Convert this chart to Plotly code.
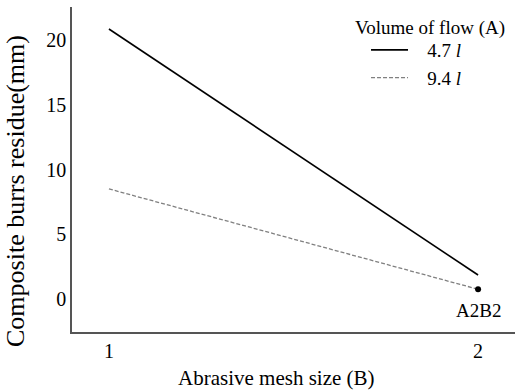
import plotly.graph_objects as go

mesh_size = [1, 2]
flow_47 = [20.85, 1.85]
flow_94 = [8.5, 0.75]
legend_names = ["&nbsp;&nbsp;&nbsp;4.7 <i>l</i>", "&nbsp;&nbsp;&nbsp;9.4 <i>l</i>"]
point_label = "A2B2"
x_title = "Abrasive mesh size (B)"
y_title = "Composite burrs residue(mm)"
legend_title = "Volume of flow (A)"

FONT = "Liberation Serif"
fig = go.Figure()
fig.add_trace(go.Scatter(x=mesh_size, y=flow_47, mode="lines", name=legend_names[0],
                         line=dict(color="black", width=1.6)))
fig.add_trace(go.Scatter(x=mesh_size, y=flow_94, mode="lines", name=legend_names[1],
                         line=dict(color="#808080", width=1.3, dash="4px,2px")))
fig.add_trace(go.Scatter(x=[mesh_size[1]], y=[flow_94[1]], mode="markers",
                         marker=dict(color="black", size=6), showlegend=False))

fig.update_layout(
    width=519, height=392,
    margin=dict(l=72, r=4, t=7, b=60),
    paper_bgcolor="white", plot_bgcolor="white",
    font=dict(family=FONT, size=19, color="black"),
    xaxis=dict(range=[0.9, 2.1], tickvals=[1, 2], showgrid=False, zeroline=False,
               showline=True, linecolor="#555555", linewidth=1.5, ticks="",
               automargin=False, tickfont=dict(family=FONT, size=20)),
    yaxis=dict(range=[-2.55, 22.55], tickvals=[0, 5, 10, 15, 20], showgrid=False,
               zeroline=False, showline=True, linecolor="#555555", linewidth=1.5,
               ticks="", automargin=False, tickfont=dict(family=FONT, size=20)),
    legend=dict(x=0.6637, y=0.926, xanchor="left", yanchor="top", bgcolor="rgba(0,0,0,0)",
                itemwidth=37, font=dict(family=FONT, size=19)),
    annotations=[
        dict(text=legend_title, xref="paper", yref="paper",
             x=0.808, y=0.935, xanchor="center", yanchor="middle", showarrow=False,
             font=dict(family=FONT, size=19)),
        dict(text=x_title, xref="paper", yref="paper", x=0.4605, y=-0.1415,
             xanchor="center", yanchor="middle", showarrow=False,
             font=dict(family=FONT, size=21)),
        dict(text=y_title, xref="paper", yref="paper", x=-0.1287, y=0.4338,
             xanchor="center", yanchor="middle", showarrow=False, textangle=-90,
             font=dict(family=FONT, size=26)),
        dict(text=point_label, x=mesh_size[1], y=flow_94[1], xref="x", yref="y",
             yshift=-21, xanchor="center", yanchor="middle", showarrow=False,
             font=dict(family=FONT, size=19)),
    ],
)
fig.write_html("out.html", config={"displayModeBar": False},
               post_script="document.body.style.margin='0';")
